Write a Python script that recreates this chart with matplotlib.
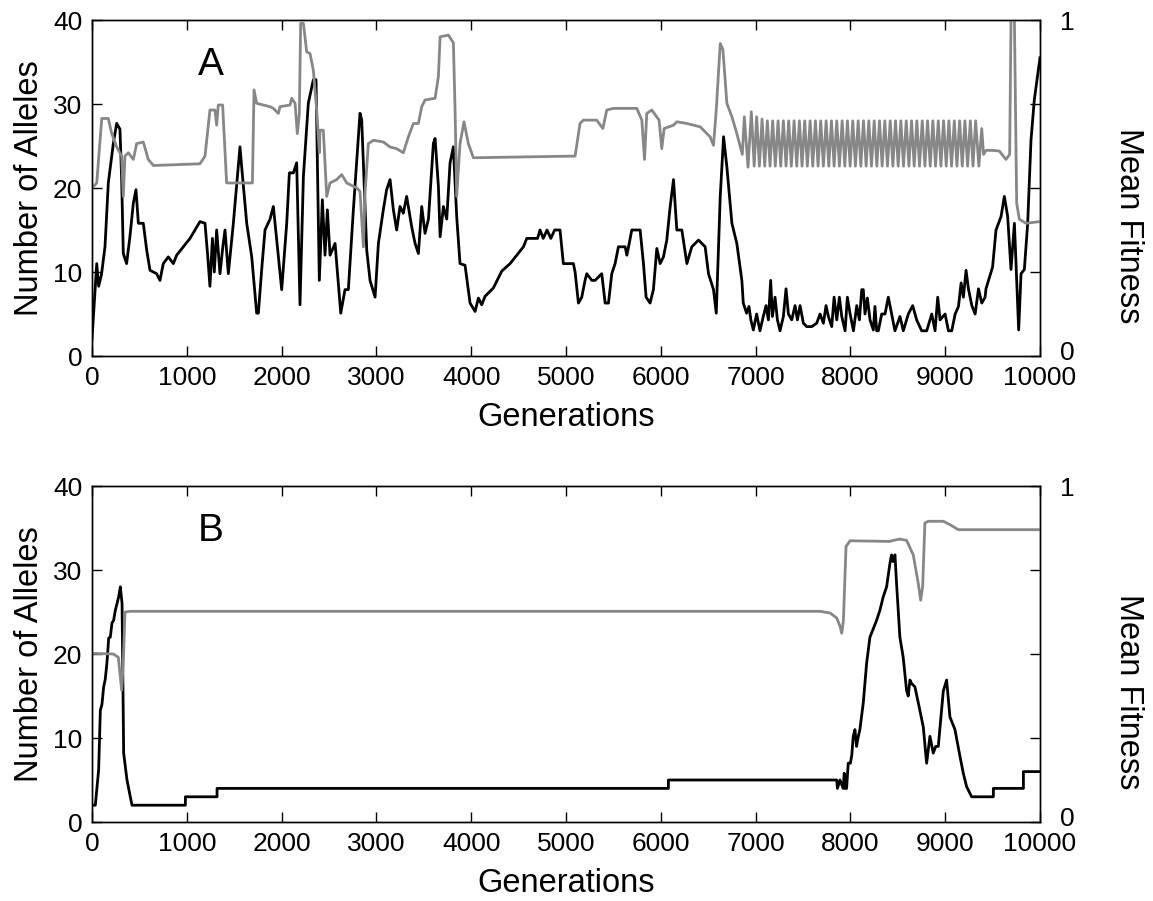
import matplotlib
matplotlib.use("Agg")
import matplotlib.pyplot as plt
from matplotlib.transforms import offset_copy

plt.rcParams['font.family'] = ['Liberation Sans', 'DejaVu Sans']

# ---------------- Panel A data ----------------
gen_a = [0, 50, 70, 100, 137, 172, 225, 260, 295, 313, 330, 365, 400, 436, 464, 489, 541, 577, 612,
         682, 717, 752, 805, 858, 893, 963, 1034, 1139, 1192, 1220, 1244, 1270, 1290, 1315, 1350, 1380,
         1403, 1438, 1491, 1561, 1579, 1632, 1685, 1737, 1755, 1790, 1825, 1878, 1913, 1931, 2001, 2054,
         2082, 2124, 2159, 2194, 2230, 2282, 2335, 2363, 2398, 2430, 2458, 2483, 2511, 2564, 2624, 2669,
         2704, 2757, 2827, 2845, 2898, 2933, 2986, 3021, 3073, 3108, 3144, 3179, 3214, 3249, 3284, 3319,
         3372, 3408, 3443, 3478, 3513, 3549, 3601, 3619, 3654, 3672, 3707, 3742, 3777, 3812, 3847, 3882,
         3935, 3988, 4041, 4076, 4111, 4146, 4234, 4322, 4410, 4480, 4551, 4586, 4700, 4726, 4760, 4800,
         4840, 4880, 4937, 4972, 5078, 5096, 5131, 5166, 5201, 5219, 5272, 5307, 5377, 5413, 5448, 5483,
         5518, 5553, 5624, 5642, 5660, 5694, 5782, 5817, 5845, 5887, 5922, 5958, 5993, 6028, 6063, 6099,
         6134, 6169, 6222, 6275, 6327, 6398, 6468, 6503, 6556, 6585, 6627, 6662, 6697, 6750, 6802, 6855,
         6870, 6905, 6930, 6950, 6976, 7011, 7046, 7081, 7110, 7135, 7159, 7177, 7205, 7230, 7258, 7293,
         7321, 7346, 7381, 7416, 7441, 7469, 7504, 7539, 7592, 7644, 7680, 7715, 7743, 7768, 7803, 7828,
         7856, 7884, 7909, 7944, 7968, 7997, 8032, 8067, 8095, 8120, 8136, 8154, 8179, 8207, 8242, 8259,
         8277, 8295, 8330, 8365, 8400, 8435, 8470, 8523, 8558, 8611, 8657, 8699, 8752, 8805, 8858, 8893,
         8921, 8946, 8999, 9034, 9069, 9105, 9140, 9168, 9192, 9220, 9245, 9281, 9316, 9351, 9386, 9421,
         9430, 9500, 9536, 9589, 9624, 9659, 9694, 9730, 9775, 9800, 9835, 9870, 9905, 9940, 10000]
alleles_a = [2, 11, 8.3, 9.7, 13, 20.6, 25.3, 27.7, 27, 21, 12.2, 11, 14.2, 18.2, 19.8, 15.8, 15.8, 12.6, 10.2,
             9.8, 9, 11, 11.8, 11, 12, 13, 14, 16, 15.8, 12, 8.3, 14, 10, 15, 9.8, 13,
             15, 9.8, 15.8, 24.9, 22.5, 15.8, 11.8, 5.1, 5.1, 10.3, 15, 16.3, 17.8, 15.8, 7.9, 15.8,
             21.8, 21.8, 23, 6.1, 21.4, 30.1, 32.9, 32.9, 9, 18.6, 12, 17.4, 12, 13.4, 5.1, 7.9,
             7.9, 17.4, 28.9, 28.1, 12.6, 9, 7, 13.4, 17.4, 19.8, 21, 17.4, 15, 17.8, 17, 19,
             15.4, 13.4, 12.2, 17.8, 14.6, 16.3, 25.3, 25.9, 20.2, 14.2, 17.8, 16.3, 23, 24.9, 16.6, 11,
             10.8, 6.3, 5.3, 6.9, 6.1, 7.1, 8.1, 10.1, 11, 12, 13, 14, 14, 15, 14, 15,
             14, 15, 15, 11, 11, 10, 6.3, 7, 9, 9.8, 9, 9, 9.8, 6.3, 6.3, 9.8,
             11, 13, 13, 12, 13, 15, 15, 11, 7, 6.3, 7.9, 12.8, 11, 11.8, 13.8, 17.8,
             21, 15, 15, 11, 13, 13.8, 13, 9.8, 7.9, 5.1, 19, 26.1, 22.5, 15.8, 13.4, 9,
             6.3, 5.1, 5.9, 4.3, 3.1, 5, 3, 4.7, 6, 4.3, 9, 4.7, 7, 4.3, 3, 4.7,
             8, 5, 4.3, 6, 4.3, 6, 3.9, 3.5, 3.5, 3.9, 5, 3.9, 6, 4.7, 3.5, 7,
             4.3, 7, 4.7, 3, 7, 5, 3, 6, 4.3, 7.9, 7.9, 5, 6.9, 4.3, 3.1, 5.9,
             3, 3, 5, 5, 7, 5, 3, 4.7, 3, 5, 6, 4.3, 3, 3, 5, 3,
             7, 4.3, 5, 3, 3, 5, 5.9, 8.7, 7, 10.2, 8, 6, 5, 8, 6.3, 7,
             8, 10.6, 15, 16.6, 19, 16.6, 10.3, 15.8, 3.1, 9.8, 10.3, 15.8, 25.7, 30.5, 35.5]

fit_gen_a = [0, 50, 103, 172, 208, 260, 313, 330, 348, 383, 436, 471, 541, 594, 647, 1139, 1192, 1244,
             1297, 1315, 1332, 1378, 1420, 1692, 1709, 1737, 1878, 1913, 1966, 1983, 2089, 2107, 2142,
             2166, 2187, 2201, 2230, 2265, 2300, 2335, 2370, 2398, 2405, 2440, 2476, 2511, 2581, 2634,
             2687, 2792, 2827, 2863, 2880, 2915, 2968, 3073, 3144, 3214, 3284, 3337, 3390, 3443, 3478,
             3513, 3619, 3654, 3672, 3760, 3812, 3830, 3847, 3882, 3924, 3970, 4023, 5096, 5148, 5183,
             5324, 5389, 5430, 5501, 5747, 5800, 5828, 5852, 5905, 5982, 6010, 6035, 6134, 6169, 6275,
             6416, 6521, 6556, 6585, 6627, 6655, 6697, 6750, 6802, 6860]
fit_a = [0.5, 0.515, 0.707, 0.707, 0.662, 0.622, 0.595, 0.475, 0.595, 0.605, 0.585, 0.632, 0.637, 0.585,
         0.567, 0.572, 0.595, 0.732, 0.732, 0.687, 0.747, 0.747, 0.515, 0.515, 0.792, 0.752, 0.742, 0.737,
         0.722, 0.742, 0.747, 0.767, 0.752, 0.662, 0.72, 0.99, 0.99, 0.905, 0.9, 0.85, 0.732, 0.605, 0.672,
         0.672, 0.475, 0.515, 0.525, 0.54, 0.515, 0.5, 0.49, 0.325, 0.485, 0.632, 0.642, 0.637, 0.622,
         0.617, 0.605, 0.652, 0.692, 0.692, 0.742, 0.762, 0.767, 0.832, 0.95, 0.955, 0.932, 0.732, 0.475,
         0.632, 0.697, 0.632, 0.59, 0.595, 0.692, 0.702, 0.702, 0.677, 0.732, 0.737, 0.737, 0.702, 0.585,
         0.722, 0.732, 0.702, 0.617, 0.677, 0.687, 0.697, 0.692, 0.682, 0.652, 0.627, 0.732, 0.93, 0.912,
         0.752, 0.712, 0.662, 0.6]

# oscillating part of mean fitness (peaks and troughs)
osc_peak_gen = [6881, 6955, 7011, 7068, 7124, 7180, 7237, 7293, 7349, 7406, 7462, 7518, 7575, 7631, 7687,
                7744, 7800, 7856, 7913, 7969, 8025, 8082, 8138, 8194, 8251, 8307, 8363, 8420, 8476, 8532,
                8589, 8645, 8701, 8758, 8814, 8870, 8927, 8983, 9039, 9096, 9152, 9208, 9265, 9321, 9385]
osc_peak_fit = [0.712, 0.727, 0.712, 0.705] + [0.70] * 40 + [0.677]
osc_trough_gen = [6920, 6985, 7040, 7096, 7152, 7208, 7265, 7321, 7377, 7434, 7490, 7546, 7603, 7659, 7715,
                  7772, 7828, 7884, 7941, 7997, 8053, 8110, 8166, 8222, 8279, 8335, 8391, 8448, 8504, 8560,
                  8617, 8673, 8729, 8786, 8842, 8898, 8955, 9011, 9067, 9124, 9180, 9236, 9293, 9355, 9405]
osc_trough_fit = [0.562] + [0.565] * 43 + [0.6]

fit_gen_a_tail = [9431, 9500, 9571, 9641, 9680, 9694, 9730, 9754, 9782, 9852, 10000]
fit_a_tail = [0.612, 0.612, 0.61, 0.585, 0.6, 1.0, 1.0, 0.455, 0.407, 0.395, 0.4]

# ---------------- Panel B data ----------------
gen_b = [0, 35, 70, 88, 105, 123, 140, 158, 176, 193, 211, 228, 246, 264, 281, 299, 317, 334, 369, 404,
         422, 985, 985, 1319, 1319, 6080, 6080, 7856, 7863, 7890, 7924, 7935, 7942, 7960, 7977, 8000,
         8015, 8030, 8048, 8065, 8080, 8100, 8136, 8171, 8206, 8241, 8276, 8311, 8346, 8382, 8417, 8434,
         8450, 8470, 8487, 8522, 8557, 8593, 8610, 8628, 8645, 8680, 8716, 8769, 8804, 8839, 8874, 8900,
         8927, 8980, 9015, 9050, 9103, 9156, 9191, 9226, 9279, 9508, 9508, 9825, 9825, 10000]
alleles_b = [2, 2, 6.2, 13.3, 14, 16.1, 17, 19, 21.9, 22, 23.7, 24, 25.2, 26, 26.8, 28, 26, 8.2, 5, 3,
             2, 2, 3, 3, 4, 4, 5, 5, 4, 5, 4, 5.8, 4, 4, 7, 7,
             8, 10.2, 11, 9, 10, 11, 14.2, 18.9, 22, 23, 24, 25.2, 26.8, 28, 30.8, 31.8,
             31, 31.8, 28.4, 22, 19.6, 15.6, 15, 16.9, 16.5, 16.1, 14.2, 11.3, 7, 10.2, 8.2, 9,
             9, 15.6, 16.9, 12.5, 11, 7.8, 5.8, 4.2, 3, 3, 4, 4, 6, 6]

fit_gen_b = [0, 225, 278, 313, 330, 348, 400, 7680, 7786, 7856, 7891, 7909, 7926, 7954, 7996, 8417, 8450,
             8522, 8593, 8663, 8716, 8741, 8762, 8786, 8822, 8980, 9050, 9138, 10000]
fit_b = [0.502, 0.5, 0.49, 0.392, 0.475, 0.625, 0.627, 0.627, 0.622, 0.607, 0.582, 0.562, 0.6, 0.82,
         0.837, 0.835, 0.838, 0.842, 0.838, 0.795, 0.71, 0.66, 0.7, 0.89, 0.895, 0.895, 0.885, 0.87, 0.87]

panel_labels = ["A", "B"]
fit_tick_labels = ["0", "1"]

# combine fitness pieces of panel A in order
osc_gen = []
osc_fit = []
for pg, pf, tg, tf in zip(osc_peak_gen, osc_peak_fit, osc_trough_gen, osc_trough_fit):
    osc_gen += [pg, tg]
    osc_fit += [pf, tf]
fit_gen_a_all = fit_gen_a + osc_gen + fit_gen_a_tail
fit_a_all = fit_a + osc_fit + fit_a_tail

W, H = 1153, 901
AX_L, AX_W, AX_H = 92, 948, 336
fig = plt.figure(figsize=(W / 100, H / 100), dpi=100)
grey = '#878787'
FS = 19
LFS = 23.5


def style(ax, ax2, label):
    ax.set_xlim(0, 10000)
    ax.set_ylim(0, 40)
    ax.set_xticks(range(0, 10001, 1000))
    ax.set_yticks([0, 10, 20, 30, 40])
    ax.tick_params(axis='both', direction='in', length=7, width=1, labelsize=FS, pad=7,
                   top=True, bottom=True, left=True, right=False)
    ax.set_xlabel('Generations', fontsize=LFS, va='top')
    ax.xaxis.set_label_coords(0.5, -(402 - 356) / AX_H)
    ax.set_ylabel('Number of Alleles', fontsize=LFS, va='center', ha='center')
    ax.yaxis.set_label_coords((30 - AX_L) / AX_W, 0.5)
    ax2.set_ylim(0, 1)
    ax2.set_yticks([0, 0.25, 0.5, 0.75, 1])
    ax2.tick_params(axis='y', which='major', direction='in', length=7, width=1,
                    right=True, left=False, labelright=False, labelleft=False)
    # end labels of the fitness axis (only 0 and 1 are labelled)
    lab_tr_low = offset_copy(ax2.transAxes, fig=fig, x=20, y=-4, units='dots')
    lab_tr_high = offset_copy(ax2.transAxes, fig=fig, x=20, y=-10, units='dots')
    ax2.text(1.0, 0.0, fit_tick_labels[0], transform=lab_tr_low, fontsize=FS,
             ha='left', va='baseline')
    ax2.text(1.0, 1.0, fit_tick_labels[1], transform=lab_tr_high, fontsize=FS,
             ha='left', va='baseline')
    ax2.set_ylabel('Mean Fitness', fontsize=LFS, rotation=-90, va='center', ha='center')
    ax2.yaxis.set_label_coords((1129 - AX_L) / AX_W, 1 - (226 - 20) / AX_H)
    for a in (ax, ax2):
        for s in a.spines.values():
            s.set_linewidth(1.0)
    ax.text(1250, 34.6, label, fontsize=28, ha='center', va='center')


axA = fig.add_axes([AX_L / W, (H - 356) / H, AX_W / W, AX_H / H])
axA2 = axA.twinx()
axA.plot(gen_a, alleles_a, color='black', lw=2.0, zorder=3)
axA2.plot(fit_gen_a_all, fit_a_all, color=grey, lw=2.0)
style(axA, axA2, panel_labels[0])

axB = fig.add_axes([AX_L / W, (H - 822) / H, AX_W / W, AX_H / H])
axB2 = axB.twinx()
axB.plot(gen_b, alleles_b, color='black', lw=2.0, zorder=3)
axB2.plot(fit_gen_b, fit_b, color=grey, lw=2.0)
style(axB, axB2, panel_labels[1])

fig.savefig('out.png', dpi=100)
